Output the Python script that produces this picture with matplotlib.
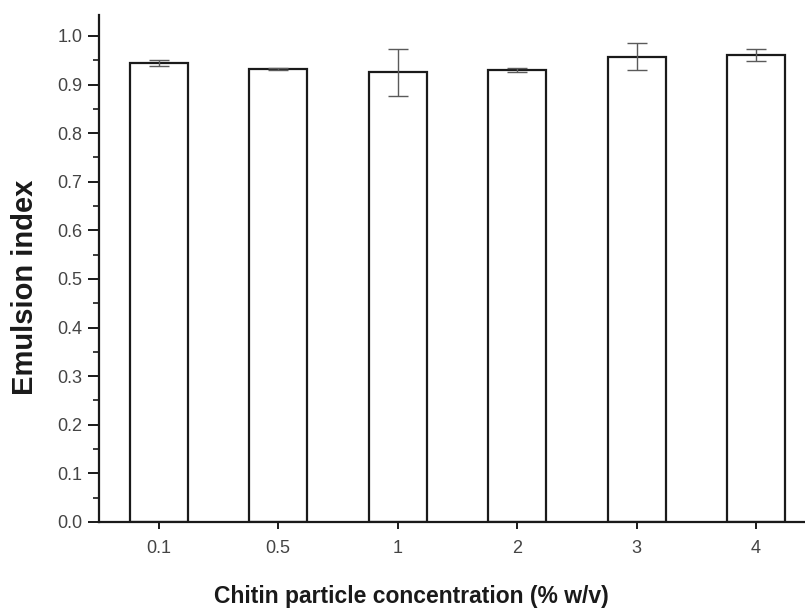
import matplotlib
matplotlib.use('Agg')
import matplotlib.pyplot as plt
import numpy as np
from matplotlib.ticker import MultipleLocator, FormatStrFormatter

plt.rcParams['font.family'] = ['Liberation Sans', 'DejaVu Sans']

concentrations = ['0.1', '0.5', '1', '2', '3', '4']
emulsion_index = [0.945, 0.931, 0.925, 0.930, 0.957, 0.961]
errors = [0.006, 0.002, 0.049, 0.005, 0.028, 0.013]

fig = plt.figure(figsize=(8.05, 6.1), dpi=100)
ax = fig.add_axes([0.123, 0.1443, 0.877, 0.8311])

x = np.arange(len(concentrations))
ax.bar(x, emulsion_index, width=0.485, color='white', edgecolor='#1a1a1a',
       linewidth=1.6, zorder=2)
ax.errorbar(x, emulsion_index, yerr=errors, fmt='none', ecolor='#5a5a5a',
            elinewidth=1.0, capsize=7, capthick=1.0, zorder=3)

ax.set_xlim(-0.5, 5.41)
ax.set_ylim(0, 1.043)
ax.set_xticks(x)
ax.set_xticklabels(concentrations)
ax.yaxis.set_major_locator(MultipleLocator(0.1))
ax.yaxis.set_minor_locator(MultipleLocator(0.05))
ax.yaxis.set_major_formatter(FormatStrFormatter('%.1f'))

for side in ['top', 'right']:
    ax.spines[side].set_visible(False)
for side in ['left', 'bottom']:
    ax.spines[side].set_linewidth(1.6)
    ax.spines[side].set_color('#1a1a1a')

ax.tick_params(axis='y', which='major', direction='out', length=8, width=1.4,
               labelsize=13, labelcolor='#444444', color='#1a1a1a', pad=4)
ax.tick_params(axis='y', which='minor', direction='out', length=4.5, width=1.2,
               color='#1a1a1a')
ax.tick_params(axis='x', which='major', direction='inout', length=10, width=1.4,
               labelsize=13, labelcolor='#444444', color='#1a1a1a', pad=8)

ax.set_xlabel('Chitin particle concentration (% w/v)', fontsize=16.5,
              fontweight='bold', color='#1a1a1a')
ax.set_ylabel('Emulsion index', fontsize=21, fontweight='bold', color='#1a1a1a')
ax.xaxis.set_label_coords(0.443, -0.124)
ax.yaxis.set_label_coords(-0.085, 0.463)

fig.savefig('out.png', dpi=100)
plt.close(fig)
